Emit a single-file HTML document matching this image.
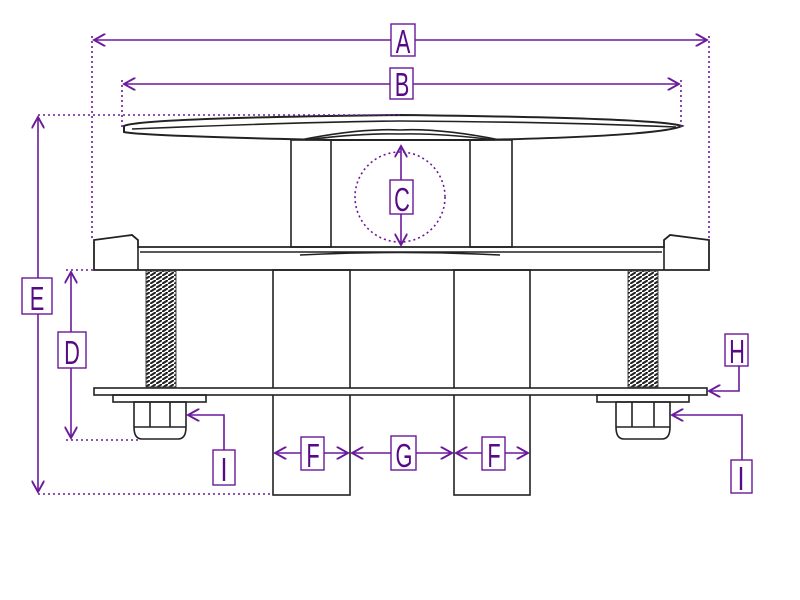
<!DOCTYPE html>
<html><head><style>body{margin:0;background:#fff}svg{display:block}
text{font-family:"Liberation Sans",sans-serif;fill:#560a86;font-size:28px;text-anchor:middle}</style></head>
<body><svg width="800" height="600" viewBox="0 0 800 600">
<defs><marker id="m" viewBox="0 0 10 10" refX="9" refY="5" markerWidth="8" markerHeight="8" orient="auto-start-reverse"><path d="M0,0L9,5L0,10" fill="none" stroke="#6a1a9a" stroke-width="1.5"/></marker>
<pattern id="th" width="6" height="4" patternUnits="userSpaceOnUse"><path d="M0,4L6,0" stroke="#222" stroke-width="2"/></pattern></defs>
<g fill="none" stroke="#222" stroke-width="1.6">
<!-- top bar -->
<path d="M124,126 Q140,118 400,115 Q660,118 682,126 Q660,136 480,140 L330,140 Q140,136 124,132 Z" stroke-width="2"/>
<path d="M132,129 Q300,122 400,121 Q560,122 676,127"/>
<path d="M300,140 Q360,128 400,130 Q440,128 500,140"/>
<path d="M305,140 Q360,133 400,134 Q440,133 495,140"/>
<rect x="291" y="140" width="40" height="107"/><rect x="470" y="140" width="42" height="107"/>
<!-- base -->
<path d="M94,270 L94,240 L132,235 L138,240 L138,247 L664,247 L664,240 L670,235 L709,240 L709,270 Z" stroke-width="1.8"/>
<path d="M138,247 L138,270 M664,247 L664,270 M140,252 L662,252 M300,255 Q400,250 500,255"/>
<!-- columns -->
<rect x="273" y="270" width="77" height="225"/><rect x="454" y="270" width="76" height="225"/>
<!-- plate -->
<rect x="94" y="388" width="613" height="7" fill="#fff"/>
<rect x="113" y="395" width="93" height="7"/><rect x="597" y="395" width="92" height="7"/>
<path d="M134,402 h52 v25 q0,12 -8,12 h-36 q-8,0 -8,-12 z M150,402v25 M170,402v25 M134,427h52"/>
<path d="M616,402 h54 v25 q0,12 -8,12 h-38 q-8,0 -8,-12 z M632,402v25 M654,402v25 M616,427h54"/>
</g>
<rect x="146" y="271" width="30" height="116" fill="url(#th)" stroke="#444"/>
<rect x="628" y="271" width="30" height="116" fill="url(#th)" stroke="#444"/>
<g stroke="#6a1a9a" stroke-width="1.6" fill="none">
<g stroke-dasharray="2,3">
<path d="M92,36V240 M709,36V240 M122,80V128 M681,80V128 M38,115H400 M38,494H273 M66,270H94 M66,440H140"/>
<circle cx="400" cy="197" r="45"/>
</g>
<path d="M94,40H707" marker-start="url(#m)" marker-end="url(#m)"/>
<path d="M124,84H679" marker-start="url(#m)" marker-end="url(#m)"/>
<path d="M401,146V245" marker-start="url(#m)" marker-end="url(#m)"/>
<path d="M38,117V492" marker-start="url(#m)" marker-end="url(#m)"/>
<path d="M71,272V438" marker-start="url(#m)" marker-end="url(#m)"/>
<path d="M275,453H348" marker-start="url(#m)" marker-end="url(#m)"/>
<path d="M352,453H452" marker-start="url(#m)" marker-end="url(#m)"/>
<path d="M456,453H528" marker-start="url(#m)" marker-end="url(#m)"/>
<path d="M739,366V391H709" marker-end="url(#m)"/>
<path d="M224,450V415H188" marker-end="url(#m)"/>
<path d="M742,460V415H672" marker-end="url(#m)"/>
</g>
<g fill="#fff" stroke="#6a1a9a" stroke-width="1.4">
<rect x="391" y="24" width="24" height="32"/><rect x="390" y="68" width="23" height="31"/>
<rect x="390" y="180" width="23" height="34"/><rect x="22" y="278" width="30" height="36"/>
<rect x="58" y="332" width="28" height="36"/><rect x="725" y="334" width="23" height="32"/>
<rect x="213" y="450" width="22" height="35"/><rect x="731" y="460" width="21" height="33"/>
<rect x="301" y="437" width="23" height="33"/><rect x="391" y="436" width="25" height="34"/>
<rect x="482" y="437" width="23" height="33"/>
</g>
<text transform="translate(403,53) scale(0.78,1.2)">A</text>
<text transform="translate(402,96) scale(0.78,1.2)">B</text>
<text transform="translate(402,211) scale(0.78,1.2)">C</text>
<text transform="translate(37,310) scale(0.78,1.2)">E</text>
<text transform="translate(72,364) scale(0.78,1.2)">D</text>
<text transform="translate(737,363) scale(0.78,1.2)">H</text>
<text transform="translate(224,481) scale(0.9,1.2)">I</text>
<text transform="translate(741,490) scale(0.9,1.2)">I</text>
<text transform="translate(313,467) scale(0.78,1.2)">F</text>
<text transform="translate(404,467) scale(0.78,1.2)">G</text>
<text transform="translate(494,467) scale(0.78,1.2)">F</text>
</svg></body></html>
